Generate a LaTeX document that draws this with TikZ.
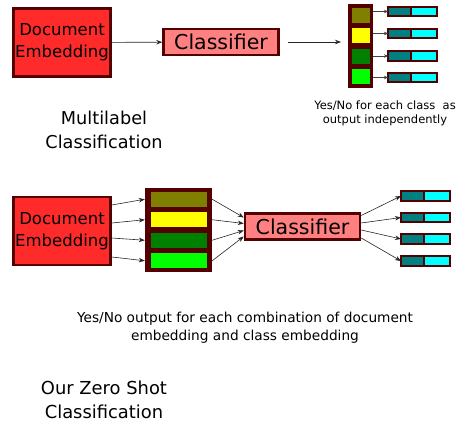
\documentclass[tikz,border=0pt]{standalone}
\usepackage{fontspec}
\setmainfont{DejaVu Sans}
\usetikzlibrary{arrows.meta}
\definecolor{boxline}{HTML}{550000}
\definecolor{docred}{HTML}{FF2A2A}
\definecolor{clsred}{HTML}{FF8080}
\definecolor{cellolive}{HTML}{808000}
\definecolor{cellyellow}{HTML}{FFFF00}
\definecolor{cellgreen}{HTML}{008000}
\definecolor{celllime}{HTML}{00FF00}
\definecolor{pairteal}{HTML}{008080}
\definecolor{paircyan}{HTML}{00FFFF}
\begin{document}
\begin{tikzpicture}[x=1pt, y=-1pt,
    doc/.style={draw=boxline, line width=2.5pt, fill=docred, minimum width=97pt, minimum height=68pt,
        inner sep=0pt, align=center, font=\fontsize{16.5}{22}\selectfont},
    cls/.style={draw=boxline, line width=2.5pt, fill=clsred, minimum width=115pt, minimum height=26pt,
        inner sep=0pt, font=\fontsize{20.5}{24}\selectfont},
    column/.style={fill=boxline, inner sep=0pt, minimum height=84pt},
    cell/.style={draw=boxline, line width=1pt, inner sep=0pt, minimum height=16pt},
    half/.style={draw=boxline, line width=2pt, inner sep=0pt, outer sep=0pt, minimum height=9.5pt},
    arr/.style={-{Stealth[length=6pt, width=4.5pt]}, line width=0.6pt, black!85},
    smallarr/.style={-{Stealth[length=4pt, width=3.5pt]}, line width=0.5pt, black!75},
    note/.style={align=center, inner sep=0pt}]
    \useasboundingbox (0,0) rectangle (465,430);

    \begin{scope}
    \node[doc] (doc1) at (62,42.5) {Document\\Embedding};
    \node[cls] (cls1) at (221,42) {Classifier};
    \draw[arr] (doc1) -- (cls1);
    \coordinate (col1in) at (341,42);
    \draw[arr] ([xshift=8pt]cls1.east) -- (col1in);
    \node[column, minimum width=25pt] (col1) at (360.5,46) {};
    \node[cell, fill=cellolive, minimum width=19pt] (c11) at (360.5,15.6) {};
    \node[cell, fill=cellyellow, minimum width=19pt] (c12) at (360.5,35.9) {};
    \node[cell, fill=cellgreen, minimum width=19pt] (c13) at (360.5,56.1) {};
    \node[cell, fill=celllime, minimum width=19pt] (c14) at (360.5,76.4) {};
    \foreach \i/\y in {1/11.5, 2/33.5, 3/56, 4/77.5} {
        \node[half, fill=pairteal, minimum width=22.5pt] (t1\i) at (399.25,\y) {};
        \node[half, fill=paircyan, minimum width=26.5pt, anchor=west] (y1\i) at (t1\i.east) {};
        \draw[smallarr] (col1.east |- t1\i.west) -- (t1\i.west);
    }
    \node[note, font=\fontsize{11.5}{13.5}\selectfont] (note1) at (385,113.5) {Yes/No for each class\ \ as\\output independently};
    \node[note, font=\fontsize{17.7}{24}\selectfont] (title1) at (104,130) {Multilabel\\Classification};
    \end{scope}

    \begin{scope}
    \node[doc] (doc2) at (62,231) {Document\\Embedding};
    \node[column, minimum width=67pt] (col2) at (178.5,230) {};
    \node[cell, fill=cellolive, minimum width=57pt] (c21) at (178.5,199.25) {};
    \node[cell, fill=cellyellow, minimum width=57pt] (c22) at (178.5,219.75) {};
    \node[cell, fill=cellgreen, minimum width=57pt] (c23) at (178.5,240.25) {};
    \node[cell, fill=celllime, minimum width=57pt] (c24) at (178.5,260.75) {};
    \node[cls] (cls2) at (302.5,226.5) {Classifier};
    \foreach \i/\a/\b/\c/\y in {1/26/9/11/196, 2/8/3/3.5/217.5, 3/-7/-4/-3.5/239, 4/-26/-10/-11.5/261} {
        \draw[arr] ([yshift=\a pt]doc2.east) -- (col2.west |- c2\i);
        \draw[arr] (col2.east |- c2\i) -- ([yshift=\b pt]cls2.west);
        \node[half, fill=pairteal, minimum width=22.5pt] (t2\i) at (412.25,\y) {};
        \node[half, fill=paircyan, minimum width=26.5pt, anchor=west] (y2\i) at (t2\i.east) {};
        \draw[arr] ([yshift=\c pt]cls2.east) -- (t2\i.west);
    }
    \node[note, font=\fontsize{13.7}{17.5}\selectfont] (note2) at (245,327.5) {Yes/No output for each combination of document\\embedding and class embedding};
    \node[note, font=\fontsize{17.9}{24}\selectfont] (title2) at (104,400) {Our Zero Shot\\Classification};
    \end{scope}
\end{tikzpicture}
\end{document}
